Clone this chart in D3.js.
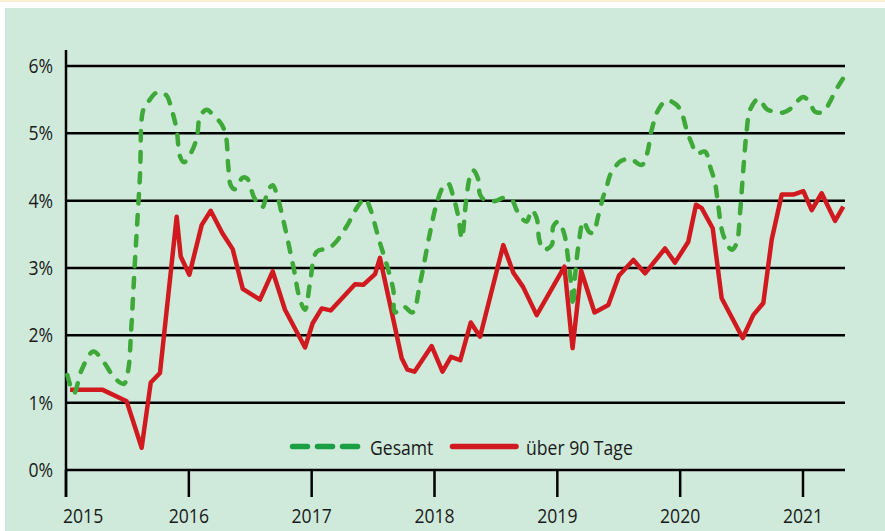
<!DOCTYPE html>
<html>
<head>
<meta charset="utf-8">
<script src="https://cdn.jsdelivr.net/npm/d3@7"></script>
<style>
  html, body { margin: 0; padding: 0; background: #fff; }
  svg { display: block; }
  text { font-family: "Open Sans", "Noto Sans", sans-serif; fill: #1a1a1a; }
</style>
</head>
<body>
<div id="chart"></div>
<script>
// Jahre (Achse) und Prozent-Ticks
var years = [2015, 2016, 2017, 2018, 2019, 2020, 2021];
var yTicks = [0, 1, 2, 3, 4, 5, 6];
var seriesNames = ["Gesamt", "über 90 Tage"];

// Gesamt (gestrichelt, grün) - Zeitpunkt als Dezimaljahr
var gesamtT = [2015.011, 2015.065, 2015.128, 2015.222, 2015.304, 2015.399, 2015.472, 2015.507, 2015.529, 2015.562,
  2015.602, 2015.629, 2015.670, 2015.743, 2015.814, 2015.861, 2015.901, 2015.928, 2015.961, 2016.036,
  2016.069, 2016.091, 2016.145, 2016.199, 2016.268, 2016.303, 2016.321, 2016.341, 2016.376, 2016.437,
  2016.474, 2016.531, 2016.596, 2016.647, 2016.683, 2016.715, 2016.769, 2016.851, 2016.905, 2016.946,
  2016.986, 2017.041, 2017.135, 2017.190, 2017.285, 2017.377, 2017.434, 2017.475, 2017.548, 2017.611,
  2017.665, 2017.678, 2017.746, 2017.821, 2017.882, 2017.963, 2018.018, 2018.072, 2018.110, 2018.153,
  2018.194, 2018.222, 2018.257, 2018.289, 2018.316, 2018.357, 2018.371, 2018.425, 2018.506, 2018.560,
  2018.629, 2018.669, 2018.710, 2018.751, 2018.791, 2018.832, 2018.853, 2018.886, 2018.954, 2018.967,
  2019.008, 2019.054, 2019.089, 2019.117, 2019.128, 2019.144, 2019.171, 2019.212, 2019.258, 2019.293,
  2019.331, 2019.374, 2019.402, 2019.429, 2019.456, 2019.510, 2019.592, 2019.687, 2019.728, 2019.768,
  2019.822, 2019.890, 2019.972, 2020.013, 2020.053, 2020.094, 2020.135, 2020.202, 2020.243, 2020.284,
  2020.311, 2020.351, 2020.420, 2020.460, 2020.487, 2020.514, 2020.542, 2020.569, 2020.636, 2020.705,
  2020.772, 2020.840, 2020.894, 2020.949, 2021.003, 2021.057, 2021.098, 2021.165, 2021.220, 2021.261,
  2021.328];
var gesamtV = [1.41, 1.14, 1.49, 1.76, 1.61, 1.36, 1.28, 1.49, 2.03, 3.12,
  4.36, 5.35, 5.47, 5.61, 5.57, 5.35, 5.05, 4.66, 4.57, 4.78,
  4.98, 5.25, 5.35, 5.27, 5.13, 4.95, 4.51, 4.23, 4.17, 4.34,
  4.33, 4.05, 3.90, 4.16, 4.23, 4.10, 3.71, 3.02, 2.53, 2.38,
  2.77, 3.24, 3.29, 3.37, 3.62, 3.92, 4.03, 3.89, 3.42, 3.05,
  2.67, 2.34, 2.43, 2.34, 2.77, 3.52, 3.96, 4.21, 4.26, 4.06,
  3.76, 3.44, 3.99, 4.36, 4.45, 4.31, 4.09, 3.99, 4.00, 4.04,
  4.01, 3.86, 3.74, 3.69, 3.86, 3.74, 3.42, 3.27, 3.34, 3.62,
  3.69, 3.52, 3.12, 2.67, 2.43, 2.87, 3.32, 3.69, 3.54, 3.52,
  3.76, 4.06, 4.21, 4.38, 4.46, 4.58, 4.62, 4.53, 4.68, 5.05,
  5.35, 5.49, 5.42, 5.30, 5.05, 4.85, 4.70, 4.73, 4.51, 4.26,
  3.91, 3.49, 3.27, 3.37, 3.81, 4.46, 5.05, 5.35, 5.51, 5.36,
  5.32, 5.31, 5.36, 5.47, 5.54, 5.45, 5.32, 5.32, 5.47, 5.62,
  5.82];

// über 90 Tage (rot)
var ueber90T = [2015.033, 2015.299, 2015.494, 2015.616, 2015.690, 2015.765, 2015.901, 2015.934, 2016.004, 2016.105,
  2016.178, 2016.272, 2016.357, 2016.439, 2016.579, 2016.683, 2016.783, 2016.946, 2017.008, 2017.082,
  2017.155, 2017.353, 2017.420, 2017.516, 2017.556, 2017.733, 2017.780, 2017.837, 2017.977, 2018.065,
  2018.134, 2018.210, 2018.295, 2018.371, 2018.560, 2018.642, 2018.721, 2018.832, 2019.058, 2019.124,
  2019.194, 2019.303, 2019.415, 2019.502, 2019.619, 2019.714, 2019.877, 2019.958, 2020.066, 2020.129,
  2020.175, 2020.265, 2020.338, 2020.509, 2020.595, 2020.677, 2020.745, 2020.827, 2020.921, 2021.003,
  2021.071, 2021.152, 2021.261, 2021.328];
var ueber90V = [1.19, 1.19, 1.02, 0.33, 1.30, 1.44, 3.76, 3.17, 2.90, 3.64,
  3.85, 3.52, 3.28, 2.69, 2.53, 2.95, 2.38, 1.82, 2.18, 2.40,
  2.37, 2.76, 2.75, 2.91, 3.15, 1.66, 1.49, 1.46, 1.84, 1.46,
  1.68, 1.63, 2.19, 1.98, 3.34, 2.93, 2.72, 2.30, 3.02, 1.81,
  2.96, 2.34, 2.45, 2.89, 3.12, 2.92, 3.29, 3.08, 3.39, 3.94,
  3.89, 3.59, 2.55, 1.96, 2.30, 2.48, 3.42, 4.09, 4.09, 4.14,
  3.86, 4.11, 3.70, 3.91];

var width = 885, height = 531;
var green = "#3ea838", greenLegend = "#1b9f45", red = "#d01a1f";
var fontSize = 20, squeeze = 0.88; // schmale Schrift nachbilden

var svg = d3.select("#chart").append("svg")
  .attr("width", width)
  .attr("height", height);

// Hintergrund
svg.append("rect").attr("x", 0).attr("y", 0).attr("width", width).attr("height", 2).attr("fill", "#fbefd4");
svg.append("rect").attr("x", 5).attr("y", 8).attr("width", width - 5).attr("height", height - 8).attr("fill", "#cfeadb");

var x = d3.scaleLinear().domain([2015, 2021]).range([66, 803]);
var y = d3.scaleLinear().domain([0, 6]).range([470, 66]);
var xEnd = 845;

function place(px, py) {
  return "translate(" + px + "," + py + ") scale(" + squeeze + ",1)";
}

// Gitterlinien
svg.append("g").selectAll("line")
  .data(yTicks)
  .enter()
  .append("line")
  .attr("x1", x(2015)).attr("x2", xEnd)
  .attr("y1", d => y(d)).attr("y2", d => y(d))
  .attr("stroke", "#000").attr("stroke-width", 2.5);

// y-Achse
svg.append("line")
  .attr("x1", x(2015)).attr("x2", x(2015))
  .attr("y1", 50).attr("y2", 497)
  .attr("stroke", "#000").attr("stroke-width", 2.5);

svg.append("g").selectAll("text")
  .data(yTicks)
  .enter()
  .append("text")
  .attr("transform", d => place(53, y(d) + 7))
  .attr("text-anchor", "end")
  .attr("font-size", fontSize)
  .text(d => d + "%");

// x-Achse Ticks
svg.append("g").selectAll("line")
  .data(years)
  .enter()
  .append("line")
  .attr("x1", d => x(d)).attr("x2", d => x(d))
  .attr("y1", y(0)).attr("y2", 497)
  .attr("stroke", "#000").attr("stroke-width", 2.5);

svg.append("g").selectAll("text")
  .data(years)
  .enter()
  .append("text")
  .attr("transform", d => place(d == 2015 ? x(d) - 3 : x(d), 523))
  .attr("text-anchor", d => d == 2015 ? "start" : "middle")
  .attr("font-size", fontSize)
  .text(d => d);

// Linien
var line = d3.line().x(d => x(d[0])).y(d => y(d[1]));

svg.append("path")
  .datum(d3.zip(ueber90T, ueber90V))
  .attr("d", line.curve(d3.curveLinear))
  .attr("fill", "none")
  .attr("stroke", red)
  .attr("stroke-width", 4.5)
  .attr("stroke-linejoin", "round");

svg.append("path")
  .datum(d3.zip(gesamtT, gesamtV))
  .attr("d", line.curve(d3.curveCatmullRom.alpha(0.5)))
  .attr("fill", "none")
  .attr("stroke", green)
  .attr("stroke-width", 4.5)
  .attr("stroke-linecap", "round")
  .attr("stroke-dasharray", "9.5,11.5");

// Legende
var legend = svg.append("g");
[290, 315, 340].forEach(function(lx) {
  legend.append("line")
    .attr("x1", lx + 2.5).attr("x2", lx + 17.5)
    .attr("y1", 446.5).attr("y2", 446.5)
    .attr("stroke", greenLegend).attr("stroke-width", 5.5)
    .attr("stroke-linecap", "round");
});
legend.append("text").attr("transform", place(370, 455)).attr("font-size", fontSize).text(seriesNames[0]);
legend.append("line")
  .attr("x1", 452.5).attr("x2", 516)
  .attr("y1", 446.5).attr("y2", 446.5)
  .attr("stroke", red).attr("stroke-width", 5.5)
  .attr("stroke-linecap", "round");
legend.append("text").attr("transform", place(526, 455)).attr("font-size", fontSize).text(seriesNames[1]);
</script>
</body>
</html>
